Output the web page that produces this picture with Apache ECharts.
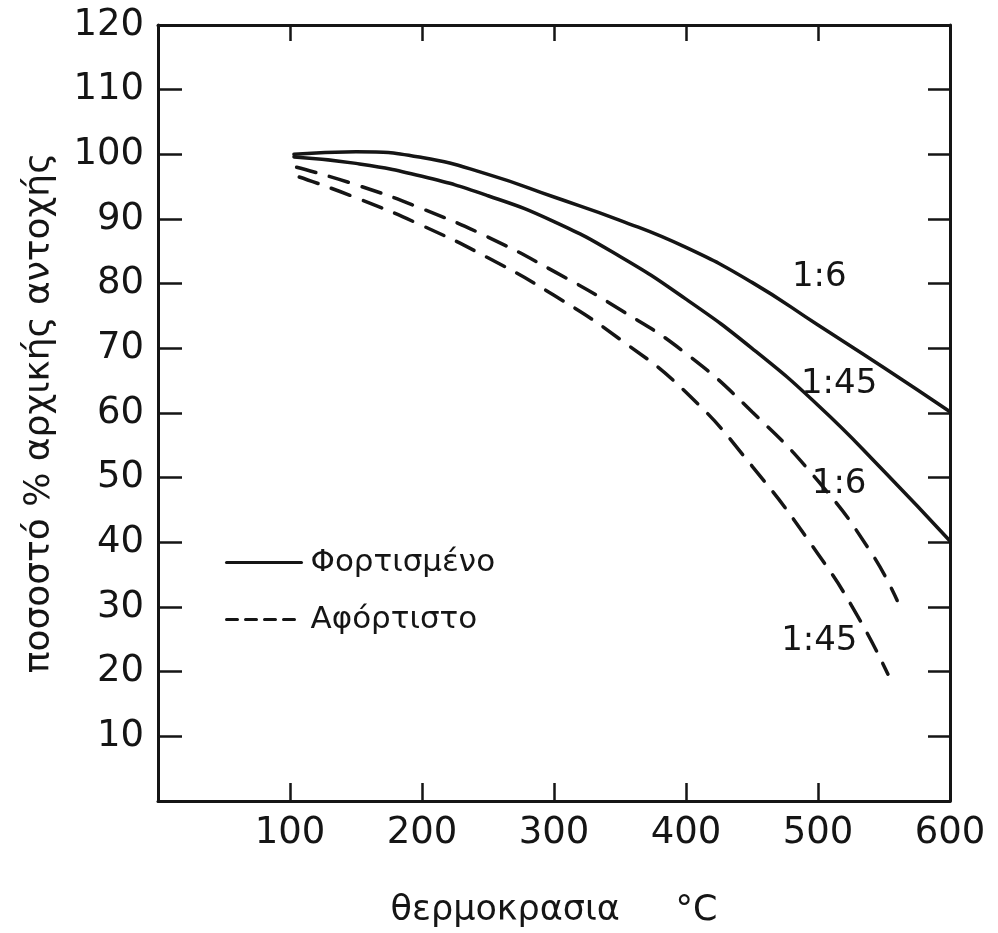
<!DOCTYPE html>
<html>
<head>
<meta charset="UTF-8">
<title>αντοχή - θερμοκρασία</title>
<script src="https://cdn.jsdelivr.net/npm/echarts@6/dist/echarts.min.js"></script>
<style>
  html, body { margin: 0; padding: 0; background: #fff; }
  #main { width: 998px; height: 933px; }
</style>
</head>
<body>
<div id="main"></div>
<script>
// values (temperature °C, % of initial strength)
var loaded16 = [[103, 100], [150, 100.4], [200, 99.5], [250, 96.9], [300, 93.4], [350, 89.8], [400, 85.6], [450, 80.2], [500, 73.6], [550, 67], [600, 60.2]];
var loaded145 = [[103, 99.6], [150, 98.6], [200, 96.6], [250, 93.6], [300, 89.6], [350, 84.2], [400, 77.6], [450, 70], [500, 61.2], [550, 51], [600, 40.2]];
var unloaded16 = [[105, 98], [150, 95.3], [200, 91.6], [250, 87.2], [300, 81.9], [350, 76], [400, 69.2], [450, 60.2], [500, 49.5], [540, 38.5], [560, 31]];
var unloaded145 = [[107, 96.5], [150, 93.3], [200, 89], [250, 84], [300, 78.2], [350, 71.4], [400, 63.2], [450, 51.8], [500, 38.2], [530, 28.6], [553, 19.6]];

var legendNames = ['Φορτισμένο', 'Αφόρτιστο'];
var curveLabels = ['1:6', '1:45', '1:6', '1:45'];
var labelCoords = [[501, 81], [516, 64.5], [516, 49], [501, 24.7]];

var xName = 'θερμοκρασια     °C';
var yName = 'ποσοστό % αρχικής αντοχής';

var ink = '#151515';
var font = 'DejaVu Sans';

var myChart = echarts.init(document.getElementById('main'));

function curve(name, data, dashed, idx) {
    return {
        name: name,
        type: 'line',
        data: data,
        smooth: 0.5,
        showSymbol: false,
        symbol: 'none',
        animation: false,
        lineStyle: { color: ink, width: 3.5, type: dashed ? [20, 14] : 'solid', cap: 'round' },
        itemStyle: { color: ink },
        markPoint: {
            symbol: 'circle',
            symbolSize: 1,
            itemStyle: { color: 'rgba(0,0,0,0)' },
            label: {
                show: true, position: 'inside', formatter: curveLabels[idx],
                color: ink, fontSize: 34, fontFamily: font
            },
            data: [{ coord: labelCoords[idx] }]
        }
    };
}

option = {
    backgroundColor: '#fff',
    animation: false,
    grid: { left: 158, right: 48, top: 25, bottom: 127 },
    legend: {
        orient: 'vertical',
        left: 220,
        top: 542,
        itemWidth: 75,
        itemHeight: 20,
        itemGap: 26,
        itemStyle: { opacity: 0, borderWidth: 0 },
        textStyle: { color: ink, fontSize: 31, fontFamily: font, lineHeight: 30, padding: [0, 0, 0, 4] },
        data: [
            { name: legendNames[0], lineStyle: { type: 'solid', width: 3 } },
            { name: legendNames[1], lineStyle: { type: [11, 8], width: 3 } }
        ]
    },
    xAxis: [
        {
            type: 'value', min: 0, max: 600, interval: 100,
            name: xName, nameLocation: 'middle', nameGap: 92,
            nameTextStyle: { color: ink, fontSize: 35, fontFamily: font },
            axisLine: { show: true, onZero: false, lineStyle: { color: ink, width: 3 } },
            axisTick: { show: true, inside: true, length: 18, lineStyle: { color: ink, width: 2.5 } },
            axisLabel: {
                color: ink, fontSize: 37, fontFamily: font, margin: 14,
                formatter: function (v) { return v === 0 ? '' : v; }
            },
            splitLine: { show: false }
        },
        {
            type: 'value', min: 0, max: 600, interval: 100, position: 'top',
            axisLine: { show: true, onZero: false, lineStyle: { color: ink, width: 3 } },
            axisTick: { show: true, inside: true, length: 16, lineStyle: { color: ink, width: 2.5 } },
            axisLabel: { show: false },
            splitLine: { show: false }
        }
    ],
    yAxis: [
        {
            type: 'value', min: 0, max: 120, interval: 10,
            name: yName, nameLocation: 'middle', nameGap: 100, nameRotate: 90,
            nameTextStyle: { color: ink, fontSize: 36, fontFamily: font },
            axisLine: { show: true, onZero: false, lineStyle: { color: ink, width: 3 } },
            axisTick: { show: true, inside: true, length: 24, lineStyle: { color: ink, width: 2.5 } },
            axisLabel: {
                color: ink, fontSize: 37, fontFamily: font, margin: 14,
                formatter: function (v) { return v === 0 ? '' : v; }
            },
            splitLine: { show: false }
        },
        {
            type: 'value', min: 0, max: 120, interval: 10, position: 'right',
            axisLine: { show: true, onZero: false, lineStyle: { color: ink, width: 3 } },
            axisTick: { show: true, inside: true, length: 22, lineStyle: { color: ink, width: 2.5 } },
            axisLabel: { show: false },
            splitLine: { show: false }
        }
    ],
    series: [
        curve(legendNames[0], loaded16, false, 0),
        curve(legendNames[0], loaded145, false, 1),
        curve(legendNames[1], unloaded16, true, 2),
        curve(legendNames[1], unloaded145, true, 3)
    ]
};

myChart.setOption(option);
</script>
</body>
</html>
